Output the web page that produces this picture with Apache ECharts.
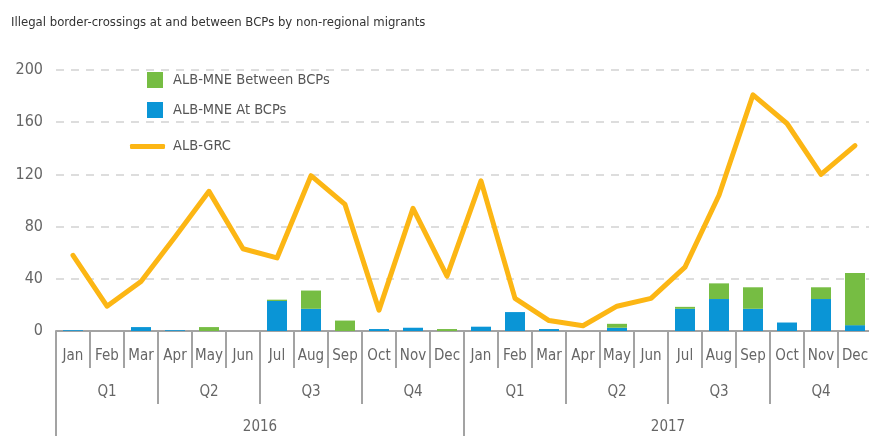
<!DOCTYPE html>
<html>
<head>
<meta charset="utf-8">
<script src="https://cdn.jsdelivr.net/npm/echarts@6/dist/echarts.min.js"></script>
<style>
html,body{margin:0;padding:0;background:#fff;}
#chart{width:869px;height:436px;}
</style>
</head>
<body>
<div id="chart"></div>
<script>
var months = ['Jan','Feb','Mar','Apr','May','Jun','Jul','Aug','Sep','Oct','Nov','Dec',
              'Jan','Feb','Mar','Apr','May','Jun','Jul','Aug','Sep','Oct','Nov','Dec'];
var quarters = ['Q1','Q2','Q3','Q4','Q1','Q2','Q3','Q4'];
var years = ['2016','2017'];

// ALB-MNE at BCPs (blue)
var atBCPs = [0.6,0,3,0.6,0,0,23,17,0,1.5,2.5,0,
              3.3,14.5,1.5,0,2.5,0,17,24.5,17,6.5,24.5,4.5];
// ALB-MNE between BCPs (green)
var betweenBCPs = [0,0,0,0,3,0,1,14,8,0,0,1.5,
                   0,0,0,0,3,0,1.5,12,16.5,0,9,40];
// ALB-GRC (line)
var albGrc = [58,19,38,72,107,63,56,119,97,16,94,42,
              115,25,8,4,19,25,49,104,181,159,120,142];

var font = "'Liberation Sans Narrow','DejaVu Sans Condensed',sans-serif";
var gray = '#a3a3a3';

var chart = echarts.init(document.getElementById('chart'));
chart.setOption({
    animation:false,
    textStyle:{fontFamily:font},
    title:{
        text:'Illegal border-crossings at and between BCPs by non-regional migrants',
        left:6, top:11,
        textStyle:{fontSize:13,fontWeight:'normal',color:'#333',fontFamily:font}
    },
    legend:[
        {
            data:['ALB-MNE Between BCPs','ALB-MNE At BCPs'],
            orient:'vertical', left:147, top:72, padding:0,
            itemWidth:16, itemHeight:16, itemGap:14,
            icon:'rect',
            textStyle:{fontSize:14.5,color:'#555',fontFamily:font,padding:[0,0,0,5]}
        },
        {
            data:['ALB-GRC'],
            left:130, top:139, padding:0,
            itemWidth:35, itemHeight:5, icon:'roundRect',
            textStyle:{fontSize:14.5,color:'#555',fontFamily:font,padding:[0,0,0,3]}
        }
    ],
    grid:{left:56, top:70, width:816, height:261, outerBoundsMode:'none', containLabel:false},
    xAxis:[
        {
            type:'category', data:months,
            axisLine:{show:true,lineStyle:{color:gray,width:2}},
            axisTick:{show:true,interval:0,length:37,lineStyle:{color:gray,width:2}},
            axisLabel:{interval:0,margin:18,fontSize:15,color:'#666',fontFamily:font}
        },
        {
            type:'category', data:quarters, position:'bottom', offset:36,
            axisLine:{show:false},
            axisTick:{show:true,interval:0,length:37,lineStyle:{color:gray,width:2}},
            axisLabel:{interval:0,margin:18,fontSize:15,color:'#666',fontFamily:font}
        },
        {
            type:'category', data:years, position:'bottom', offset:73,
            axisLine:{show:false},
            axisTick:{show:true,interval:0,length:40,lineStyle:{color:gray,width:2}},
            axisLabel:{interval:0,margin:16,fontSize:15,color:'#666',fontFamily:font}
        }
    ],
    yAxis:{
        type:'value', min:0, max:200, interval:40,
        axisLine:{show:false}, axisTick:{show:false},
        axisLabel:{margin:13,fontSize:16,color:'#666',fontFamily:font},
        splitLine:{lineStyle:{color:'#d2d2d2',type:[8,7],width:1.5}}
    },
    series:[
        {
            name:'ALB-MNE At BCPs', type:'bar', stack:'mne', data:atBCPs,
            barWidth:20, itemStyle:{color:'#0a95d6'}
        },
        {
            name:'ALB-MNE Between BCPs', type:'bar', stack:'mne', data:betweenBCPs,
            barWidth:20, itemStyle:{color:'#76bd43'}
        },
        {
            name:'ALB-GRC', type:'line', data:albGrc, z:5,
            showSymbol:false, symbol:'none',
            lineStyle:{color:'#fcb614',width:5,join:'round',cap:'round'},
            itemStyle:{color:'#fcb614'}
        }
    ]
});
</script>
</body>
</html>
